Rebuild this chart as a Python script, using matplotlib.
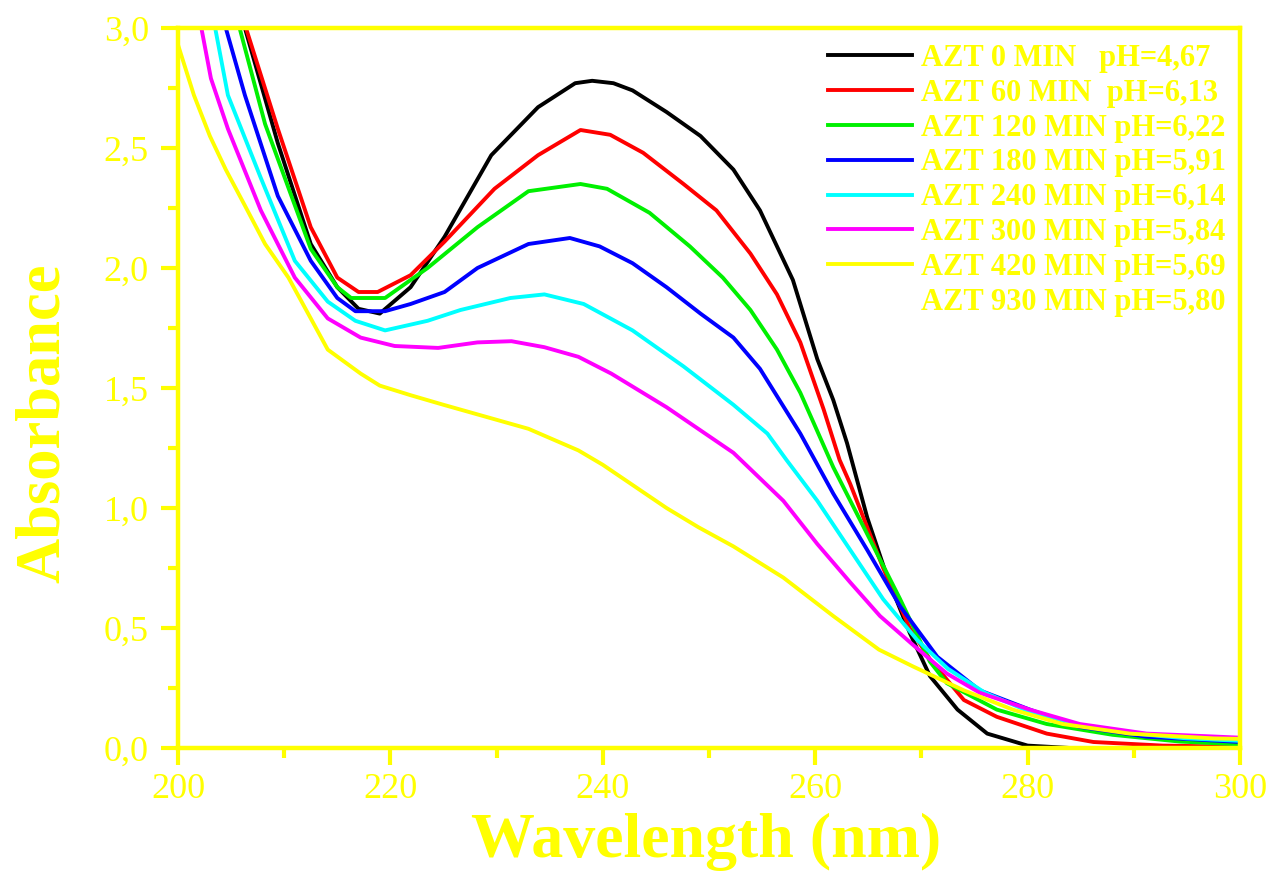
import matplotlib
matplotlib.use("Agg")
import matplotlib.pyplot as plt
from matplotlib.lines import Line2D
from matplotlib.ticker import FixedLocator, FuncFormatter

# ---------------- data ----------------
labels = ["AZT 0 MIN   pH=4,67", "AZT 60 MIN  pH=6,13", "AZT 120 MIN pH=6,22",
          "AZT 180 MIN pH=5,91", "AZT 240 MIN pH=6,14", "AZT 300 MIN pH=5,84",
          "AZT 420 MIN pH=5,69", "AZT 930 MIN pH=5,80"]
colors = ["#000000", "#ff0000", "#00f000", "#0000ff", "#00ffff", "#ff00ff", "#ffff00", "#ffffff"]

wl_0 = [200, 204, 206.3, 209.4, 212.5, 215, 217, 219, 221.9, 225.1, 229.5, 233.9, 237.4, 239, 241,
        242.8, 246, 249.2, 252.3, 254.8, 257.9, 260.2, 261.7, 263, 264.9, 266.8, 268.9, 270.8,
        273.4, 276.2, 280, 284]
a_0 = [4.0, 3.36, 3.0, 2.52, 2.10, 1.92, 1.83, 1.81, 1.92, 2.13, 2.47, 2.67, 2.77, 2.78, 2.77,
       2.74, 2.65, 2.55, 2.41, 2.24, 1.95, 1.62, 1.45, 1.27, 0.96, 0.71, 0.48, 0.30,
       0.16, 0.06, 0.01, 0.0]

wl_60 = [200, 204, 206.4, 209.4, 212.5, 215, 217, 218.8, 221.9, 225.1, 229.8, 233.9, 237.9, 240.7,
         243.8, 247.6, 250.7, 253.9, 256.4, 258.6, 260.8, 262.3, 263.3, 266.4, 268.9, 270.8, 274,
         277.1, 281.8, 286.2, 292.7, 300]
a_60 = [4.0, 3.38, 3.0, 2.58, 2.17, 1.96, 1.90, 1.90, 1.97, 2.11, 2.33, 2.47, 2.575, 2.555,
        2.48, 2.35, 2.24, 2.06, 1.89, 1.69, 1.41, 1.20, 1.10, 0.75, 0.50, 0.37, 0.20,
        0.13, 0.06, 0.025, 0.01, 0.005]

wl_120 = [200, 205.8, 208.2, 212.5, 215, 216.3, 219.5, 221.9, 223.5, 228.2, 233, 237.9, 240.4,
          244.4, 248.2, 251.3, 253.9, 256.4, 258.6, 261.7, 264.8, 268, 270.8, 272.4, 277.1,
          281.8, 288, 294.3, 300]
a_120 = [3.9, 3.0, 2.60, 2.08, 1.92, 1.875, 1.875, 1.95, 2.0, 2.17, 2.32, 2.35, 2.33,
         2.23, 2.09, 1.96, 1.825, 1.66, 1.48, 1.17, 0.90, 0.62, 0.36, 0.27, 0.16,
         0.10, 0.055, 0.027, 0.015]

wl_180 = [200, 204.5, 206.3, 209.4, 212.5, 215, 216.7, 219.5, 221.9, 225.1, 228.2, 233, 236.9,
          239.7, 242.8, 246, 249.2, 252.3, 254.8, 258.6, 261.7, 264.9, 268, 271.5, 275.5,
          280.2, 284.9, 291.2, 300]
a_180 = [3.7, 3.0, 2.72, 2.30, 2.03, 1.875, 1.82, 1.82, 1.85, 1.90, 2.0, 2.10, 2.125,
         2.09, 2.02, 1.92, 1.81, 1.71, 1.58, 1.31, 1.06, 0.825, 0.59, 0.38, 0.24,
         0.16, 0.088, 0.047, 0.025]

wl_240 = [200, 203.5, 204.7, 207.8, 211, 214.1, 216.7, 219.5, 223.5, 226.6, 231.3, 234.5, 238.2,
          242.8, 247.6, 252.3, 255.5, 257.3, 260.2, 263.3, 266.4, 269.6, 272.5, 276, 280,
          285, 290, 295, 300]
a_240 = [3.5, 3.0, 2.72, 2.375, 2.03, 1.86, 1.78, 1.74, 1.78, 1.825, 1.875, 1.89, 1.85,
         1.74, 1.59, 1.43, 1.31, 1.20, 1.03, 0.825, 0.62, 0.45, 0.33, 0.23, 0.155,
         0.095, 0.06, 0.04, 0.03]

wl_300 = [200, 202.2, 203.1, 204.7, 207.8, 211, 214.1, 217.2, 220.4, 224.5, 228.2, 231.4, 234.5,
          237.7, 240.8, 246, 252.3, 257, 260.2, 263.3, 266.1, 269.2, 272.4, 275.5, 280.2,
          284.9, 291.2, 300]
a_300 = [3.3, 3.0, 2.79, 2.58, 2.24, 1.96, 1.79, 1.71, 1.675, 1.667, 1.69, 1.695, 1.67,
         1.63, 1.56, 1.42, 1.23, 1.03, 0.85, 0.69, 0.55, 0.43, 0.31, 0.23, 0.16,
         0.10, 0.06, 0.043]

wl_420 = [200, 201.5, 203, 204.5, 206.3, 208.2, 210.4, 212.5, 214.1, 217.2, 219, 221.9, 225,
          228.2, 233, 237.7, 240, 243, 246, 249, 252.3, 257, 261.7, 266, 269.2, 274, 278.6,
          283.3, 289.6, 297.5, 300]
a_420 = [2.93, 2.72, 2.55, 2.41, 2.26, 2.10, 1.96, 1.79, 1.66, 1.56, 1.51, 1.47, 1.43,
         1.39, 1.33, 1.24, 1.18, 1.09, 1.00, 0.92, 0.84, 0.71, 0.55, 0.41, 0.34, 0.24, 0.16,
         0.10, 0.06, 0.04, 0.038]

series_wl = [wl_0, wl_60, wl_120, wl_180, wl_240, wl_300, wl_420]
series_a = [a_0, a_60, a_120, a_180, a_240, a_300, a_420]

x_major = [200, 220, 240, 260, 280, 300]
x_minor = [210, 230, 250, 270, 290]
y_major = [0.0, 0.5, 1.0, 1.5, 2.0, 2.5, 3.0]
y_minor = [0.25, 0.75, 1.25, 1.75, 2.25, 2.75]

# ---------------- drawing ----------------
YEL = "#ffff00"
SERIF = ["Liberation Serif", "DejaVu Serif"]

fig = plt.figure(figsize=(12.7, 8.71), dpi=100)
ax = fig.add_axes([178 / 1270, 1 - 748 / 871, (1240 - 178) / 1270, (748 - 28) / 871])

handles = []
for wl, a, c, lab in zip(series_wl, series_a, colors, labels):
    h, = ax.plot(wl, a, color=c, lw=2.8, label=lab, solid_joinstyle="round")
    handles.append(h)
handles.append(Line2D([], [], color=colors[7], lw=2.8, label=labels[7]))

ax.set_xlim(200, 300)
ax.set_ylim(0, 3.0)

for s in ax.spines.values():
    s.set_color(YEL)
    s.set_linewidth(3.2)

ax.xaxis.set_major_locator(FixedLocator(x_major))
ax.xaxis.set_minor_locator(FixedLocator(x_minor))
ax.yaxis.set_major_locator(FixedLocator(y_major))
ax.yaxis.set_minor_locator(FixedLocator(y_minor))
ax.yaxis.set_major_formatter(FuncFormatter(lambda v, p: f"{v:.1f}".replace(".", ",")))
ax.xaxis.set_major_formatter(FuncFormatter(lambda v, p: f"{v:.0f}"))

ax.tick_params(which="major", direction="out", length=12, width=3, color=YEL,
               labelcolor=YEL, labelsize=26)
ax.tick_params(which="minor", direction="out", length=7.5, width=3, color=YEL)
ax.tick_params(axis="y", which="major", pad=9)
ax.tick_params(axis="x", which="major", pad=6)
for lab in ax.get_xticklabels() + ax.get_yticklabels():
    lab.set_family(SERIF)

fig.text(706 / 1270, 1 - 842 / 871, "Wavelength (nm)", ha="center", va="center",
         color=YEL, fontsize=46, fontweight="bold", family=SERIF)
fig.text(44 / 1270, 1 - 423 / 871, "Absorbance", ha="center", va="center", rotation=90,
         color=YEL, fontsize=45, fontweight="bold", family=SERIF)

leg = ax.legend(handles=handles, loc="upper left",
                bbox_to_anchor=(828 / 1270, 1 - 44 / 871), bbox_transform=fig.transFigure,
                frameon=False, borderpad=0, borderaxespad=0, handlelength=2.75,
                handletextpad=0.3, labelspacing=0.19,
                prop={"family": SERIF, "weight": "bold", "size": 22})
for t in leg.get_texts():
    t.set_color(YEL)

fig.savefig("out.png", dpi=100, facecolor="white")
